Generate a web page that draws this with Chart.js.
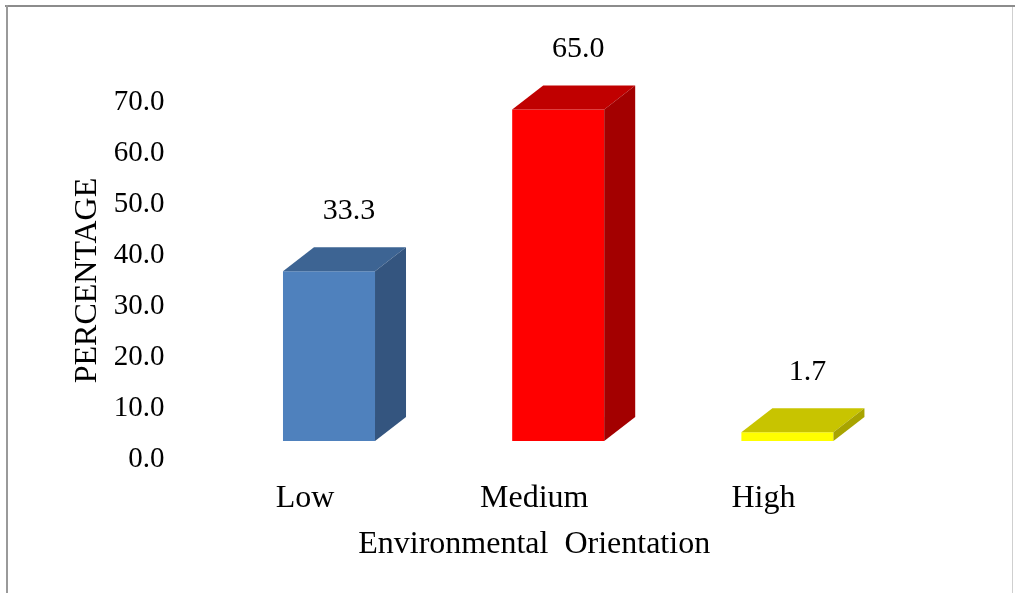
<!DOCTYPE html>
<html>
<head>
<meta charset="utf-8">
<style>
  html, body { margin: 0; padding: 0; background: #ffffff; }
  #wrap { position: relative; width: 1015px; height: 593px; }
</style>
<script src="https://cdn.jsdelivr.net/npm/chart.js@4"></script>
</head>
<body>
<div id="wrap"><canvas id="chart" width="1015" height="593"></canvas></div>
<script>
// Environmental orientation levels and their shares (%)
const categories = ['Low', 'Medium', 'High'];
const percentages = [33.3, 65.0, 1.7];
const yTicks = [0, 10, 20, 30, 40, 50, 60, 70];

const frontColors = ['#4F81BD', '#FF0000', '#FFFF00'];
const topColors = ['#3D6493', '#C00000', '#C8C400'];
const sideColors = ['#34557F', '#A30000', '#A8A400'];

const SERIF = '"Liberation Serif", "Times New Roman", serif';
const DEPTH_X = 31;
const DEPTH_Y = -24;

// Draws the top and side faces of each column, the value labels, the axis titles and the frame
const columns3d = {
  id: 'columns3d',
  beforeDraw(chart) {
    const ctx = chart.ctx;
    ctx.save();
    ctx.fillStyle = '#ffffff';
    ctx.fillRect(0, 0, chart.width, chart.height);
    ctx.fillStyle = '#8c8c8c';
    ctx.fillRect(5, 5, chart.width - 5, 2);
    ctx.fillStyle = '#9a9a9a';
    ctx.fillRect(6, 5, 2, chart.height - 5);
    ctx.fillStyle = '#cfcfcf';
    ctx.fillRect(chart.width - 3, 7, 1, chart.height - 7);
    ctx.restore();
  },
  afterDatasetsDraw(chart) {
    const ctx = chart.ctx;
    const meta = chart.getDatasetMeta(0);
    ctx.save();
    meta.data.forEach((bar, i) => {
      const p = bar.getProps(['x', 'y', 'base', 'width'], true);
      const l = p.x - p.width / 2;
      const r = p.x + p.width / 2;
      // top face
      ctx.fillStyle = topColors[i];
      ctx.beginPath();
      ctx.moveTo(l, p.y);
      ctx.lineTo(l + DEPTH_X, p.y + DEPTH_Y);
      ctx.lineTo(r + DEPTH_X, p.y + DEPTH_Y);
      ctx.lineTo(r, p.y);
      ctx.closePath();
      ctx.fill();
      // side face
      ctx.fillStyle = sideColors[i];
      ctx.beginPath();
      ctx.moveTo(r, p.y);
      ctx.lineTo(r + DEPTH_X, p.y + DEPTH_Y);
      ctx.lineTo(r + DEPTH_X, p.base + DEPTH_Y);
      ctx.lineTo(r, p.base);
      ctx.closePath();
      ctx.fill();
      // value label
      ctx.fillStyle = '#000000';
      ctx.font = '30px ' + SERIF;
      ctx.textAlign = 'center';
      ctx.textBaseline = 'middle';
      ctx.fillText(percentages[i].toFixed(1), p.x + 20, p.y - 60);
    });

    const xs = chart.scales.x;
    const ys = chart.scales.y;
    ctx.fillStyle = '#000000';
    ctx.font = '32px ' + SERIF;
    ctx.textAlign = 'center';
    ctx.textBaseline = 'middle';
    // category axis title
    ctx.fillText('Environmental  Orientation', (xs.left + xs.right) / 2 - 24, 545);
    // value axis title
    ctx.save();
    ctx.translate(88, (ys.top + ys.bottom) / 2 + 18);
    ctx.rotate(-Math.PI / 2);
    ctx.fillText('PERCENTAGE', 0, 0);
    ctx.restore();
    ctx.restore();
  }
};

new Chart(document.getElementById('chart'), {
  type: 'bar',
  data: {
    labels: categories,
    datasets: [{
      data: percentages,
      backgroundColor: frontColors,
      borderWidth: 0,
      categoryPercentage: 1.0,
      barPercentage: 0.4015
    }]
  },
  options: {
    responsive: false,
    animation: false,
    events: [],
    layout: { padding: { top: 84, right: 113, bottom: 0, left: 0 } },
    plugins: {
      legend: { display: false },
      tooltip: { enabled: false }
    },
    scales: {
      x: {
        grid: { display: false, drawTicks: false },
        border: { display: false },
        ticks: {
          color: '#000000',
          font: { family: SERIF, size: 32 },
          padding: 38,
          labelOffset: -24,
          maxRotation: 0
        },
        afterFit(scale) { scale.height = 152; }
      },
      y: {
        min: 0,
        max: 70,
        afterBuildTicks(scale) { scale.ticks = yTicks.map(v => ({ value: v })); },
        grid: { display: false, drawTicks: false },
        border: { display: false },
        ticks: {
          color: '#000000',
          font: { family: SERIF, size: 29 },
          padding: 50,
          labelOffset: 18,
          callback: v => Number(v).toFixed(1)
        },
        afterFit(scale) { scale.width = 214.4; }
      }
    }
  },
  plugins: [columns3d]
});
</script>
</body>
</html>
